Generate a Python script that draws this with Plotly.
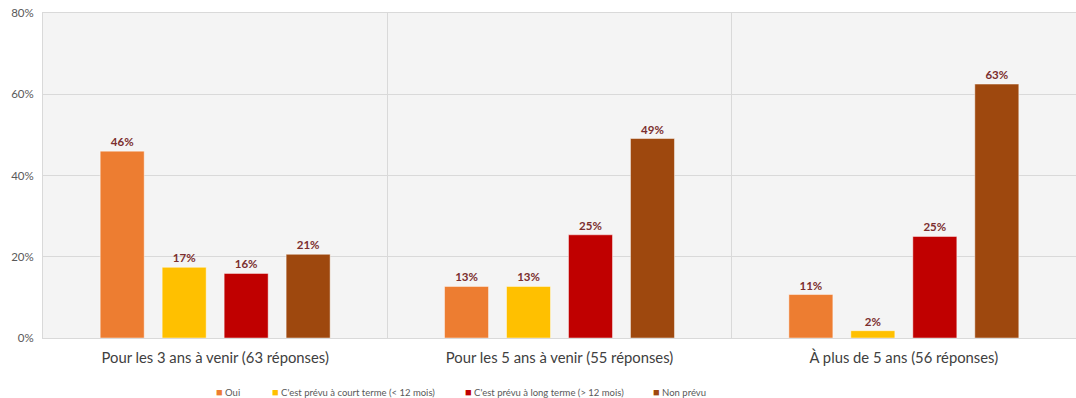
import plotly.graph_objects as go

categories = ["Pour les 3 ans à venir (63 réponses)",
              "Pour les 5 ans à venir (55 réponses)",
              "À plus de 5 ans (56 réponses)"]
series_names = ["Oui",
                "C'est prévu à court terme (< 12 mois)",
                "C'est prévu à long terme (> 12 mois)",
                "Non prévu"]
oui = [46.0, 12.7, 10.7]
court_terme = [17.4, 12.7, 1.8]
long_terme = [15.9, 25.4, 25.0]
non_prevu = [20.6, 49.1, 62.5]
y_ticks = [0, 20, 40, 60, 80]
y_tick_labels = ["0%", "20%", "40%", "60%", "80%"]

colors = ["#ED7D31", "#FFC000", "#C00000", "#9E480E"]
all_values = [oui, court_terme, long_terme, non_prevu]
legend_ids = ["legend", "legend2", "legend3", "legend4"]

FONT = "Lato, Carlito, 'Open Sans', sans-serif"
fig = go.Figure()
for name, vals, col, lg in zip(series_names, all_values, colors, legend_ids):
    fig.add_trace(go.Bar(
        x=categories, y=vals, name=name,
        marker=dict(color=col, line=dict(color="rgba(255,255,255,0.45)", width=1)),
        texttemplate="%{y:.0f}%", textposition="outside",
        textfont=dict(family=FONT, size=11.5, color="#7B2E2E", weight="bold"),
        cliponaxis=False, showlegend=False,
    ))
    fig.add_trace(go.Scatter(
        x=[None], y=[None], mode="markers", legend=lg,
        name=f"<span style='color:{col};font-size:11px'>■</span> {name}",
        marker=dict(symbol="square", size=1, color="rgba(0,0,0,0)"),
        showlegend=True,
    ))

W, L = 1033, 43
legend_px = [176, 232, 425, 613]
layout_legends = {}
for lg, px in zip(legend_ids, legend_px):
    layout_legends[lg] = dict(
        x=(px - L) / W, xanchor="left", y=-0.166, yanchor="middle",
        orientation="h", bgcolor="rgba(0,0,0,0)",
        font=dict(family=FONT, size=9.5, color="#595959"),
        itemwidth=30,
    )

fig.update_layout(
    width=1076, height=398,
    margin=dict(l=43, r=0, t=13, b=60, autoexpand=False),
    paper_bgcolor="white", plot_bgcolor="#f4f4f4",
    barmode="group", bargap=0.28, bargroupgap=0.29,
    font=dict(family=FONT),
    **layout_legends,
)
fig.update_xaxes(
    tickson="boundaries", showgrid=True, gridcolor="#d9d9d9", gridwidth=1,
    showline=True, mirror=True, linecolor="#d9d9d9", ticks="",
    tickfont=dict(family=FONT, size=14.8, color="#404040"),
    ticklabelstandoff=6,
)
fig.update_yaxes(
    range=[0, 80], tickvals=y_ticks, ticktext=y_tick_labels,
    showgrid=True, gridcolor="#d9d9d9", zeroline=False,
    showline=True, mirror=True, linecolor="#d9d9d9",
    tickfont=dict(family=FONT, size=11.5, color="#595959"),
    ticklabelstandoff=6,
)
fig.write_html("out.html")
